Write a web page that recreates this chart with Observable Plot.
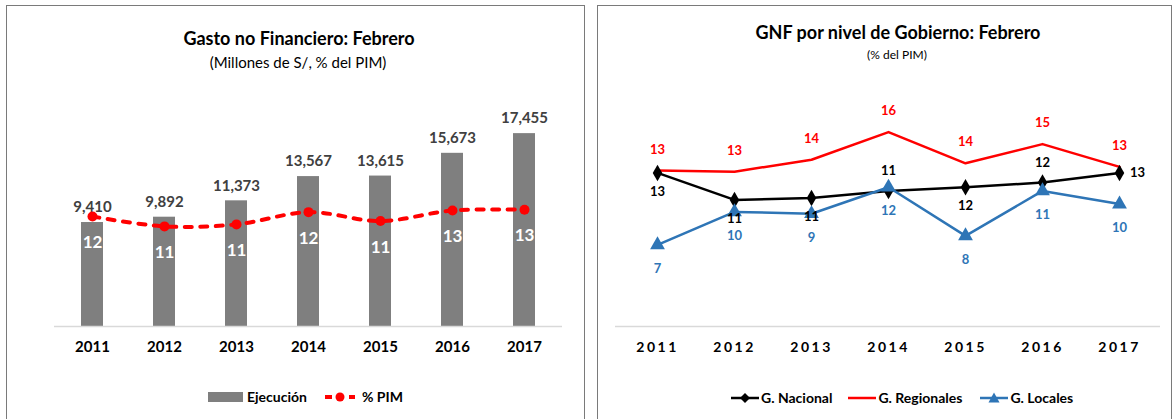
<!DOCTYPE html>
<html>
<head>
<meta charset="utf-8">
<script src="https://cdn.jsdelivr.net/npm/d3@7"></script>
<script src="https://cdn.jsdelivr.net/npm/@observablehq/plot@0.6"></script>
<style>
  body{margin:0;width:1175px;height:419px;overflow:hidden;background:#fff;position:relative;
       font-family:Lato,"Liberation Sans",Arial,sans-serif;}
  .panel{position:absolute;top:5px;height:440px;border:1.5px solid #7a7a7a;box-sizing:border-box;}
  .t{position:absolute;text-align:center;white-space:nowrap;color:#000;}
  .title{font-weight:bold;font-size:18px;line-height:20px;}
  .chart{position:absolute;}
  .legend{position:absolute;display:flex;align-items:center;font-weight:bold;font-size:14px;color:#000;white-space:nowrap;}
  .legend svg{display:block;}
  #right g[aria-label="x-axis tick label"] text{letter-spacing:2.5px;}
</style>
</head>
<body>
<div class="panel" style="left:6px;width:579px;"></div>
<div class="panel" style="left:597px;width:575px;"></div>

<div class="t title" style="left:99px;width:400px;top:28px;">Gasto no Financiero: Febrero</div>
<div class="t" style="left:98px;width:400px;top:53px;font-size:15px;line-height:18px;">(Millones de S/, % del PIM)</div>

<div class="t title" style="left:698px;width:400px;top:22px;">GNF por nivel de Gobierno: Febrero</div>
<div class="t" style="left:797px;width:200px;top:47px;font-size:12px;line-height:15px;">(% del PIM)</div>

<div id="leftBars" class="chart" style="left:0;top:90px;"></div>
<div id="leftLine" class="chart" style="left:0;top:90px;"></div>
<div id="right" class="chart" style="left:590px;top:90px;"></div>

<div class="legend" style="left:208px;top:388px;">
  <span style="display:inline-block;width:35px;height:10px;background:#7f7f7f;"></span>
  <span style="margin-left:4px;">Ejecución</span>
  <svg width="34" height="12" style="margin-left:16px;"><line x1="2" x2="32" y1="6" y2="6" stroke="#ff0000" stroke-width="4" stroke-dasharray="7 5"/><circle cx="17" cy="6" r="4.5" fill="#ff0000"/></svg>
  <span style="margin-left:5px;">% PIM</span>
</div>

<div class="legend" style="left:731px;top:389px;">
  <svg width="28" height="12"><line x1="0" x2="28" y1="6" y2="6" stroke="#000" stroke-width="2.5"/><path d="M14,1 L19,6 L14,11 L9,6Z" fill="#000"/></svg>
  <span style="margin-left:2px;">G. Nacional</span>
  <svg width="28" height="12" style="margin-left:16px;"><line x1="0" x2="28" y1="6" y2="6" stroke="#ff0000" stroke-width="2.5"/></svg>
  <span style="margin-left:2px;">G. Regionales</span>
  <svg width="28" height="12" style="margin-left:18px;"><line x1="0" x2="28" y1="6" y2="6" stroke="#2e75b6" stroke-width="2.5"/><path d="M14,0.5 L19.5,10.5 L8.5,10.5Z" fill="#2e75b6"/></svg>
  <span style="margin-left:2px;">G. Locales</span>
</div>

<script>
// ---- data ----
const years = ["2011", "2012", "2013", "2014", "2015", "2016", "2017"];
const ejecucion = [9410, 9892, 11373, 13567, 13615, 15673, 17455];   // millones de S/
const pimPct = [11.95, 10.87, 11.09, 12.42, 11.45, 12.6, 12.68];      // % del PIM
const gNacional = [12.8, 10.55, 10.7, 11.3, 11.6, 12.0, 12.8];
const gRegionales = [13.0, 12.9, 13.9, 16.2, 13.6, 15.2, 13.3];
const gLocales = [6.8, 9.55, 9.4, 11.6, 7.55, 11.3, 10.2];

const FONT = 'Lato,"Liberation Sans",Arial,sans-serif';
const fmtInt = d3.format(",");
const fmt0 = d3.format(".0f");

const leftRows = years.map((y, i) => ({year: y, ejec: ejecucion[i], pim: pimPct[i]}));
const rightRows = years.map((y, i) => ({year: y, nac: gNacional[i], reg: gRegionales[i], loc: gLocales[i]}));

const leftDims = {width: 590, height: 270, marginLeft: 54, marginRight: 28, marginTop: 15, marginBottom: 34};

// Bars (primary axis)
const bars = Plot.plot({
  ...leftDims,
  x: {domain: years, type: "band", paddingInner: 0.7, paddingOuter: 0.35, label: null},
  y: {domain: [0, 20000], axis: null},
  style: {fontFamily: FONT, background: "transparent", overflow: "visible"},
  marks: [
    Plot.barY(leftRows, {x: "year", y: "ejec", fill: "#7f7f7f"}),
    Plot.ruleY([0], {stroke: "#d9d9d9", strokeWidth: 1.5}),
    Plot.text(leftRows, {x: "year", y: "ejec", text: d => fmtInt(d.ejec), dy: -15,
      fill: "#404040", fontWeight: "bold", fontSize: 15}),
    Plot.axisX({tickSize: 0, tickPadding: 15, fontSize: 15, fontWeight: "bold", fill: "#000"})
  ]
});
document.getElementById("leftBars").append(bars);

// % PIM line (secondary axis, hidden)
const line = Plot.plot({
  ...leftDims,
  x: {domain: years, type: "point", padding: 0.5, axis: null},
  y: {domain: [0, 24], axis: null},
  style: {fontFamily: FONT, background: "transparent", overflow: "visible"},
  marks: [
    Plot.line(leftRows, {x: "year", y: "pim", stroke: "#ff0000", strokeWidth: 4,
      strokeDasharray: "7 8.5", strokeLinecap: "round", curve: "catmull-rom"}),
    Plot.dot(leftRows, {x: "year", y: "pim", r: 5, fill: "#ff0000"}),
    Plot.text(leftRows, {x: "year", y: "pim", text: d => fmt0(d.pim), dy: 26,
      fill: "#ffffff", fontWeight: "bold", fontSize: 17})
  ]
});
document.getElementById("leftLine").append(line);

// Right chart
const BLUE = "#2e75b6";
const aboveNac = new Set(["2014", "2016"]);
const rightNac = new Set(["2017"]);
const right = Plot.plot({
  width: 585, height: 270, marginLeft: 25, marginRight: 15, marginTop: 20, marginBottom: 34,
  x: {domain: years, type: "point", padding: 0.5, label: null},
  y: {domain: [0, 18], axis: null},
  style: {fontFamily: FONT, background: "transparent", overflow: "visible"},
  marks: [
    Plot.ruleY([0], {stroke: "#d9d9d9", strokeWidth: 1.5}),
    Plot.line(rightRows, {x: "year", y: "nac", stroke: "#000", strokeWidth: 2.5}),
    Plot.line(rightRows, {x: "year", y: "reg", stroke: "#ff0000", strokeWidth: 2.5}),
    Plot.line(rightRows, {x: "year", y: "loc", stroke: BLUE, strokeWidth: 2.5}),
    Plot.dot(rightRows, {x: "year", y: "nac", symbol: "diamond", r: 5, fill: "#000"}),
    Plot.dot(rightRows, {x: "year", y: "loc", symbol: "triangle", r: 5.5, fill: BLUE}),
    Plot.text(rightRows, {x: "year", y: "reg", text: d => fmt0(d.reg), dy: -21,
      fill: "#ff0000", fontWeight: "bold", fontSize: 13}),
    Plot.text(rightRows, {x: "year", y: "loc", text: d => fmt0(d.loc), dy: 24,
      fill: BLUE, fontWeight: "bold", fontSize: 13}),
    Plot.text(rightRows.filter(d => !aboveNac.has(d.year) && !rightNac.has(d.year)),
      {x: "year", y: "nac", text: d => fmt0(d.nac), dy: 19, fill: "#000", fontWeight: "bold", fontSize: 13}),
    Plot.text(rightRows.filter(d => aboveNac.has(d.year)),
      {x: "year", y: "nac", text: d => fmt0(d.nac), dy: -20, fill: "#000", fontWeight: "bold", fontSize: 13}),
    Plot.text(rightRows.filter(d => rightNac.has(d.year)),
      {x: "year", y: "nac", text: d => fmt0(d.nac), dx: 18, fill: "#000", fontWeight: "bold", fontSize: 13}),
    Plot.axisX({tickSize: 0, tickPadding: 16, fontSize: 14, fontWeight: "bold", fill: "#000"})
  ]
});
document.getElementById("right").append(right);
</script>
</body>
</html>
